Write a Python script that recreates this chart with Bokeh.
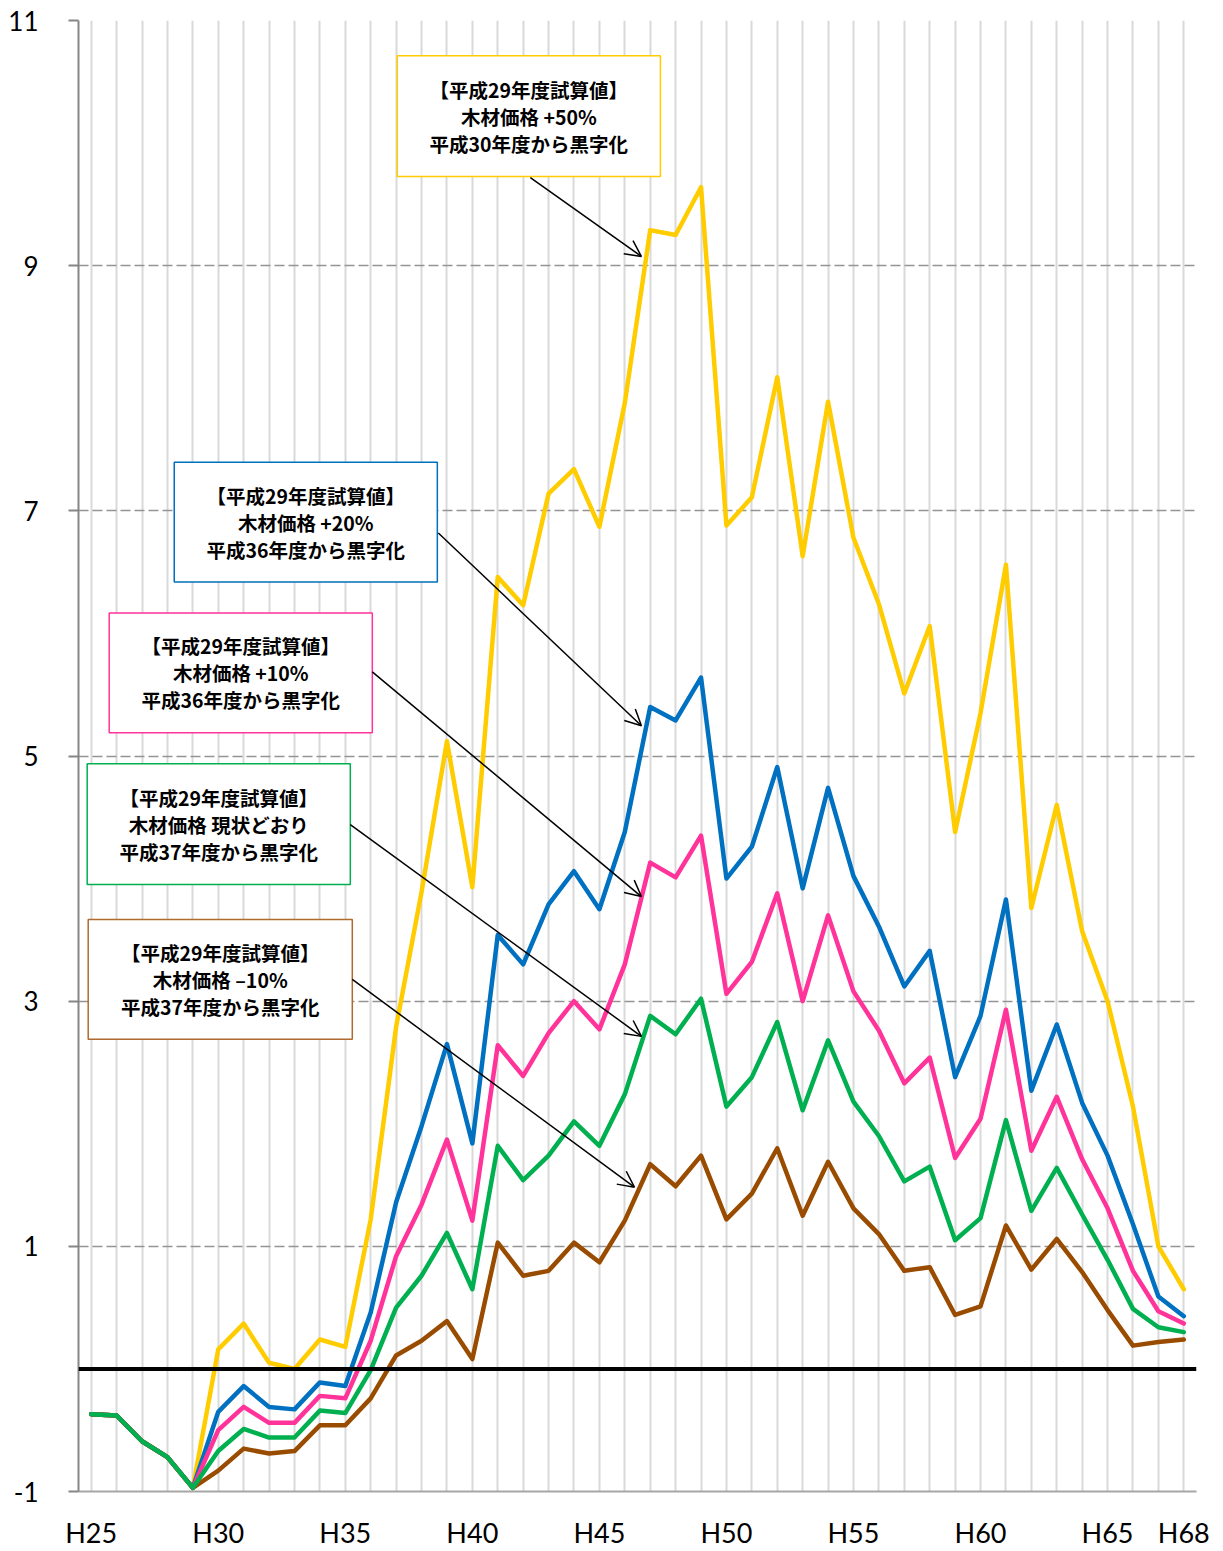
from bokeh.plotting import figure
from bokeh.models import Range1d, FixedTicker, Span, Arrow, OpenHead, ColumnDataSource
from bokeh.core.properties import value
from bokeh.embed import file_html
from bokeh.resources import INLINE

# ---------------- data ----------------
years = list(range(25, 69))
x_tick_values = [25, 30, 35, 40, 45, 50, 55, 60, 65, 68]
x_tick_labels = ["H25", "H30", "H35", "H40", "H45", "H50", "H55", "H60", "H65", "H68"]
y_tick_values = [-1, 1, 3, 5, 7, 9, 11]
y_tick_labels = ["-1", "1", "3", "5", "7", "9", "11"]

plus50 = [-0.37, -0.38, -0.59, -0.72, -0.97,
          0.16, 0.37, 0.05, 0.00, 0.24, 0.18,
          1.22, 2.79, 3.89, 5.12, 3.93,
          6.46, 6.23, 7.14, 7.34, 6.87,
          7.88, 9.29, 9.25, 9.64, 6.88,
          7.11, 8.09, 6.63, 7.89, 6.78,
          6.24, 5.51, 6.06, 4.38, 5.35,
          6.56, 3.76, 4.60, 3.57, 3.00,
          2.14, 1.00, 0.65]
plus20 = [-0.37, -0.38, -0.59, -0.72, -0.97,
          -0.35, -0.14, -0.31, -0.33, -0.11, -0.14,
          0.46, 1.36, 1.98, 2.65, 1.84,
          3.54, 3.30, 3.79, 4.06, 3.75,
          4.38, 5.40, 5.29, 5.64, 4.00,
          4.26, 4.91, 3.92, 4.74, 4.02,
          3.61, 3.12, 3.41, 2.38, 2.88,
          3.83, 2.27, 2.81, 2.17, 1.74,
          1.18, 0.59, 0.43]
plus10 = [-0.37, -0.38, -0.59, -0.72, -0.97,
          -0.50, -0.31, -0.44, -0.44, -0.22, -0.24,
          0.23, 0.92, 1.34, 1.87, 1.21,
          2.64, 2.39, 2.74, 3.00, 2.77,
          3.30, 4.13, 4.01, 4.35, 3.06,
          3.32, 3.88, 3.00, 3.70, 3.08,
          2.76, 2.33, 2.54, 1.72, 2.04,
          2.93, 1.78, 2.22, 1.71, 1.31,
          0.80, 0.47, 0.37]
current = [-0.37, -0.38, -0.59, -0.72, -0.97,
           -0.67, -0.49, -0.56, -0.56, -0.34, -0.36,
           -0.01, 0.50, 0.76, 1.11, 0.65,
           1.82, 1.54, 1.74, 2.02, 1.82,
           2.24, 2.88, 2.73, 3.02, 2.14,
           2.38, 2.83, 2.11, 2.68, 2.18,
           1.90, 1.53, 1.65, 1.05, 1.23,
           2.03, 1.29, 1.64, 1.26, 0.89,
           0.49, 0.34, 0.30]
minus10 = [-0.37, -0.38, -0.59, -0.72, -0.97,
           -0.83, -0.65, -0.69, -0.67, -0.46, -0.46,
           -0.24, 0.11, 0.23, 0.39, 0.08,
           1.03, 0.76, 0.80, 1.03, 0.87,
           1.21, 1.67, 1.49, 1.74, 1.22,
           1.43, 1.80, 1.25, 1.69, 1.31,
           1.10, 0.80, 0.83, 0.44, 0.51,
           1.17, 0.81, 1.06, 0.79, 0.48,
           0.19, 0.22, 0.24]

label_line1 = ["【平成29年度試算値】"] * 5
label_line2 = ["木材価格 +50%", "木材価格 +20%", "木材価格 +10%", "木材価格 現状どおり", "木材価格 –10%"]
label_line3 = ["平成30年度から黒字化", "平成36年度から黒字化", "平成36年度から黒字化",
               "平成37年度から黒字化", "平成37年度から黒字化"]

# ---------------- styles ----------------
YELLOW = "#FFCC00"
BLUE = "#0070C0"
PINK = "#FF3399"
GREEN = "#00B050"
BROWN = "#994C00"
BOX_BORDERS = [YELLOW, BLUE, PINK, GREEN, "#B0692E"]

# pixel-to-data helpers (reference picture layout)
def px2x(px):
    return 25 + (px - 91) / 25.4

def py2y(py):
    return (1370 - py) / 122.75

# annotation boxes (left, right, top, bottom) in reference pixels
boxes_px = [(397, 660, 55, 176), (174, 437, 462, 582), (109, 372, 613, 733),
            (87, 350, 764, 885), (88, 352, 920, 1040)]
arrows_px = [((530, 177), (641, 256)), ((438, 533), (641, 726)), ((372, 672), (641, 897)),
             ((350, 825), (641, 1037)), ((352, 980), (634, 1188))]

p = figure(width=1223, height=1551, output_backend="svg", toolbar_location=None,
           x_range=Range1d(24.5, 68.5), y_range=Range1d(-1, 11),
           min_border_left=78, min_border_right=27, min_border_top=20, min_border_bottom=58)
p.outline_line_color = None
p.background_fill_color = "white"
p.border_fill_color = "white"

# grids
p.xgrid.ticker = FixedTicker(ticks=years + [68.5])
p.xgrid.grid_line_color = "#d9d9d9"
p.xgrid.grid_line_width = 2
p.ygrid.ticker = FixedTicker(ticks=[1, 3, 5, 7, 9, 11])
p.ygrid.grid_line_color = "#949494"
p.ygrid.grid_line_width = 1.5
p.ygrid.grid_line_dash = "10 4"

# axes
p.xaxis.ticker = FixedTicker(ticks=x_tick_values)
p.xaxis.major_label_overrides = {v: l for v, l in zip(x_tick_values, x_tick_labels)}
p.xaxis.major_tick_line_color = None
p.xaxis.minor_tick_line_color = None
p.xaxis.major_tick_in = 0
p.xaxis.major_tick_out = 0
p.xaxis.axis_line_color = "#a6a6a6"
p.xaxis.axis_line_width = 2
p.xaxis.major_label_standoff = 24
p.xaxis.major_label_text_font = "Lato"
p.xaxis.major_label_text_font_size = "27px"
p.xaxis.major_label_text_color = "black"

p.yaxis.ticker = FixedTicker(ticks=y_tick_values)
p.yaxis.major_label_overrides = {v: l for v, l in zip(y_tick_values, y_tick_labels)}
p.yaxis.minor_tick_line_color = None
p.yaxis.major_tick_in = 0
p.yaxis.major_tick_out = 10
p.yaxis.major_tick_line_color = "#868686"
p.yaxis.major_tick_line_width = 2
p.yaxis.axis_line_color = "#868686"
p.yaxis.axis_line_width = 2
p.yaxis.major_label_standoff = 30
p.yaxis.major_label_text_font = "Lato"
p.yaxis.major_label_text_font_size = "26px"
p.yaxis.major_label_text_color = "black"

# zero line
p.add_layout(Span(location=0, dimension="width", line_color="black", line_width=4))

# series
for series, color in [(plus50, YELLOW), (plus20, BLUE), (plus10, PINK), (minus10, BROWN), (current, GREEN)]:
    p.line(years, series, line_color=color, line_width=4.5, line_join="round", line_cap="round")

# annotation boxes
box_src = ColumnDataSource(dict(
    left=[px2x(b[0]) for b in boxes_px], right=[px2x(b[1]) for b in boxes_px],
    top=[py2y(b[2]) for b in boxes_px], bottom=[py2y(b[3]) for b in boxes_px],
    color=BOX_BORDERS))
p.quad(left="left", right="right", top="top", bottom="bottom", source=box_src,
       fill_color="white", line_color="color", line_width=1.5)

tx, ty, tt = [], [], []
for b, l1, l2, l3 in zip(boxes_px, label_line1, label_line2, label_line3):
    cx = (b[0] + b[1]) / 2
    cy = (b[2] + b[3]) / 2
    for off, t in [(-27, l1), (0, l2), (27, l3)]:
        tx.append(px2x(cx))
        ty.append(py2y(cy + off))
        tt.append(t)
p.text(x=tx, y=ty, text=tt, text_align="center", text_baseline="middle",
       text_font=value("Noto Sans CJK JP"), text_font_style="bold",
       text_font_size="19.5px", text_color="black")

for (s, e) in arrows_px:
    p.add_layout(Arrow(end=OpenHead(size=16, line_width=1.5, line_color="black"),
                       x_start=px2x(s[0]), y_start=py2y(s[1]),
                       x_end=px2x(e[0]), y_end=py2y(e[1]),
                       line_width=1.5, line_color="black"))

open("out.html", "w").write(file_html(p, INLINE))
